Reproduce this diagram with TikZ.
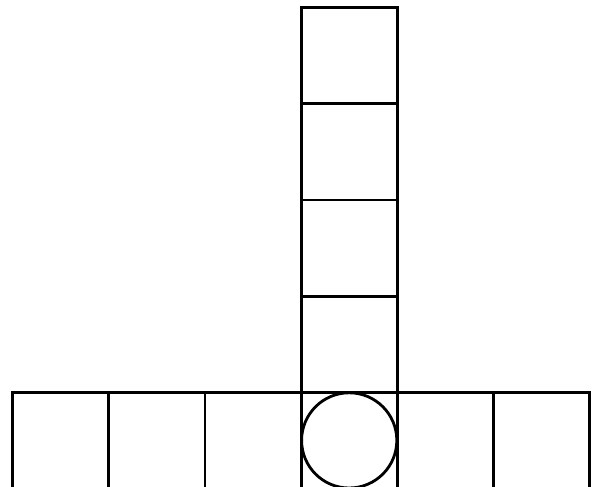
\documentclass[tikz,border=0pt]{standalone}
\begin{document}
\begin{tikzpicture}[x=1pt,y=-1pt,cell/.style={draw=black,line width=2.8pt}]
\useasboundingbox (0,0) rectangle (598,487);
\fill[white] (0,0) rectangle (598,487);
\foreach \i in {0,...,5} {
  \draw[cell] ({12.5+96.2*\i},392.3) rectangle ({12.5+96.2*(\i+1)},489.5);
}
\foreach \j in {0,...,3} {
  \draw[cell] (301.1,{7.5+96.2*\j}) rectangle (397.3,{7.5+96.2*(\j+1)});
}
\draw[cell] (349.2,440.4) circle (47.6);
\end{tikzpicture}
\end{document}
